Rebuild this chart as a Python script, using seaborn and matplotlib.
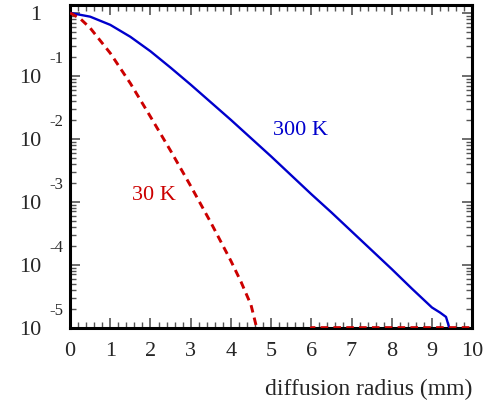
import matplotlib
matplotlib.use("Agg")
import matplotlib.pyplot as plt
import matplotlib.ticker as mticker
import seaborn as sns
import numpy as np
import pandas as pd

# 300 K curve (radius in mm, log10 of fraction)
r_300 = [0, 0.5, 1.0, 1.5, 2.0, 2.5, 3.0, 3.5, 4.0, 4.5, 5.0, 5.5, 6.0, 6.5, 7.0,
         7.5, 8.0, 8.5, 9.0, 9.2, 9.35, 9.43]
log_300 = [0, -0.06, -0.19, -0.38, -0.61, -0.87, -1.14, -1.42, -1.70, -1.99, -2.28,
           -2.58, -2.88, -3.17, -3.47, -3.77, -4.07, -4.38, -4.68, -4.76, -4.83, -5.0]

# 30 K curve
r_30 = [0, 0.25, 0.5, 1.0, 1.5, 2.0, 2.5, 3.0, 3.5, 4.0, 4.25, 4.5, 4.64, 4.8, 5.9,
        6.0, 7.0, 8.0, 9.0, 10.0]
log_30 = [0, -0.09, -0.24, -0.64, -1.12, -1.65, -2.19, -2.75, -3.33, -3.94, -4.27,
          -4.64, -5.0, -5.4, -6.0, -5.0, -5.0, -5.0, -5.0, -5.0]

ytick_exps = [-5, -4, -3, -2, -1]

df300 = pd.DataFrame({"r": r_300, "f": np.power(10.0, log_300)})
df30 = pd.DataFrame({"r": r_30, "f": np.power(10.0, log_30)})

sns.set_style("ticks")
plt.rcParams['font.family'] = ['Liberation Serif', 'DejaVu Serif']

blue = "#0000cc"
red = "#cc0000"

fig = plt.figure(figsize=(4.97, 4.08), dpi=100)
ax = fig.add_axes([0.141, 0.197, 0.809, 0.791])

sns.lineplot(data=df300, x="r", y="f", color=blue, linewidth=1.7, ax=ax, zorder=5)
sns.lineplot(data=df30, x="r", y="f", color=red, linewidth=2.1, ax=ax,
             linestyle=(0, (2.6, 1.8)), zorder=5)

ax.set_yscale("log")
ax.set_xlim(0, 10)
ax.set_ylim(1e-5, 1.34)

# ticks
ax.xaxis.set_major_locator(mticker.MultipleLocator(1))
ax.xaxis.set_minor_locator(mticker.MultipleLocator(0.2))
ax.set_yticks([10.0 ** e for e in ytick_exps] + [1.0])
ax.set_yticklabels(["10"] * len(ytick_exps) + ["1"])
ax.yaxis.set_minor_locator(mticker.LogLocator(base=10, subs=np.arange(2, 10)))
ax.yaxis.set_minor_formatter(mticker.NullFormatter())

ax.tick_params(which="both", direction="in", top=True, right=True, color="#555555")
ax.tick_params(which="major", length=7, width=1.2)
ax.tick_params(which="minor", length=4, width=1.0)
ax.tick_params(axis="x", which="major", labelsize=16, pad=10)
ax.tick_params(axis="y", which="major", labelsize=16, pad=21)

for s in ax.spines.values():
    s.set_linewidth(2.2)
    s.set_color("black")

# exponents for the 10^n tick labels
for e in ytick_exps:
    ax.annotate(f"{e}", xy=(0, 10.0 ** e), xycoords=("axes fraction", "data"),
                xytext=(-5, 12), textcoords="offset points",
                ha="right", va="center", fontsize=12)

ax.set_xlabel("diffusion radius (mm)", fontsize=17, loc="right", labelpad=13)
ax.set_ylabel("")

ax.text(5.74, 10 ** -1.87, "300 K", color=blue, fontsize=16, ha="center", va="center")
ax.text(2.08, 10 ** -2.90, "30 K", color=red, fontsize=16, ha="center", va="center")

fig.savefig("out.png", dpi=100)
